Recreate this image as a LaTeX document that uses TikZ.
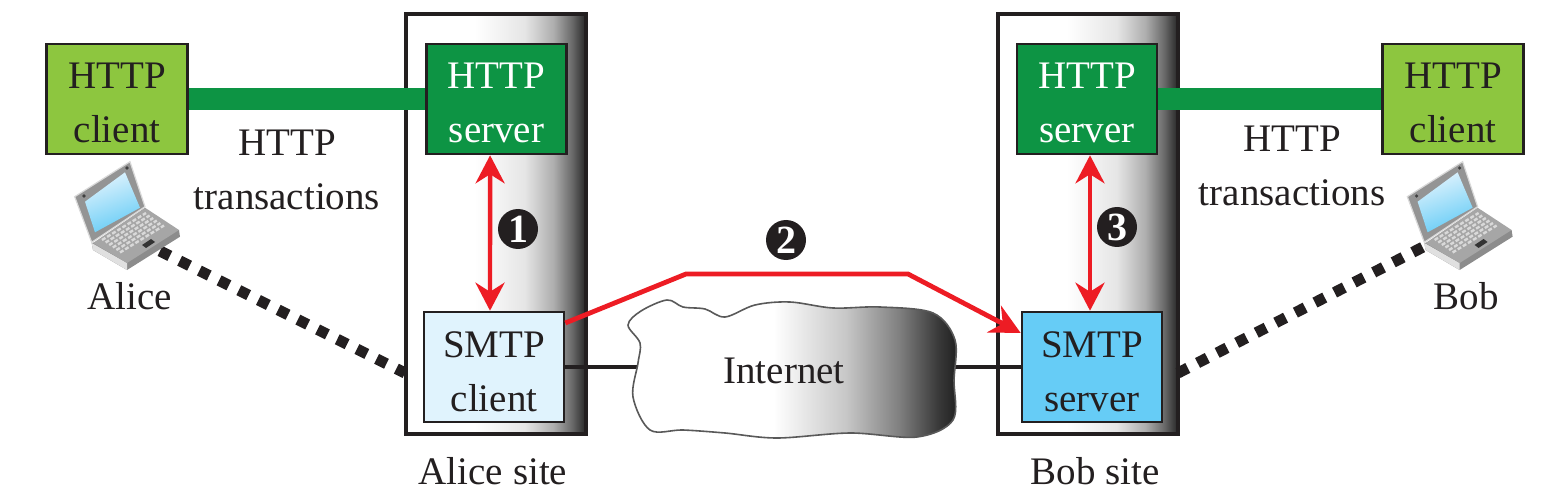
\documentclass[tikz,border=0pt]{standalone}
\usepackage{fontspec}
\setmainfont{Liberation Serif}
\usetikzlibrary{arrows.meta}
\definecolor{ink}{HTML}{231F20}
\definecolor{clientgreen}{HTML}{8DC63F}
\definecolor{servergreen}{HTML}{0D9444}
\definecolor{paleblue}{HTML}{E0F3FD}
\definecolor{skyblue}{HTML}{66CCF6}
\definecolor{redline}{HTML}{ED1C24}
\pgfdeclarehorizontalshading{sitefade}{100bp}{color(0bp)=(white); color(44bp)=(white); color(58bp)=(black!10); color(66bp)=(black!32); color(71bp)=(black!58); color(75bp)=(black!85); color(100bp)=(black!85)}
\pgfdeclarehorizontalshading{cloudfade}{100bp}{color(0bp)=(white); color(47bp)=(white); color(58bp)=(black!22); color(66bp)=(black!50); color(72bp)=(black!78); color(75bp)=(black!88); color(100bp)=(black!88)}
\tikzset{
	every node/.style={text=ink,font=\fontsize{19.5}{27}\selectfont,align=center,inner sep=0pt},
	sitebox/.style={draw=ink,line width=2.2pt,shading=sitefade,minimum width=90pt,minimum height=210pt},
	boxtext/.style={text height=44pt,text depth=0pt},
	clientbox/.style={boxtext,draw=ink,line width=1.3pt,fill=clientgreen,minimum width=70.5pt,minimum height=55pt},
	serverbox/.style={boxtext,draw=ink,line width=1.3pt,fill=servergreen,minimum width=70pt,minimum height=55pt,text=white},
	smtpbox/.style={boxtext,draw=ink,line width=1.3pt,minimum width=70pt,minimum height=55pt},
	greenlink/.style={servergreen,line width=11pt},
	wire/.style={ink,line width=2.2pt},
	redarrow/.style={redline,line width=2.2pt,{Stealth[length=14pt,width=14.5pt]}-{Stealth[length=14pt,width=14.5pt]}},
	sendarrow/.style={redline,line width=2.4pt,-{Stealth[length=15pt,width=15pt]}},
	dotted link/.style={ink,line width=5.5pt,dash pattern=on 5.5pt off 5.5pt},
	stepmark/.style={circle,fill=ink,text=white,minimum size=20pt,font=\fontsize{20}{20}\selectfont\bfseries},
	laptop/.pic={
		\fill[black!45] (21.7,88) -- (23,95) -- (57,115) -- (110,81.7) -- (109,75) -- cycle;
		\fill[black!12] (23,95) -- (57,115) -- (57,108) -- (21.7,88) -- cycle;
		\fill[black!35] (23,88) -- (75,52.7) -- (109,75) -- (57,108) -- cycle;
		\fill[black!42,draw=black!15,line width=.6pt] (4.7,41.7) -- (60,6.7) -- (75,51.7) -- (21.7,87.3) -- cycle;
		\shade[left color=paleblue,right color=skyblue,shading angle=20] (15,46.7) -- (55,17.3) -- (70,52.7) -- (25,77.3) -- cycle;
		\fill[black!75] (14,41) circle (1.8) (57,13) circle (1.8);
		\foreach \row in {0,1,2,3,4,5}
			\draw[white!85!black,line width=1.2pt,dash pattern=on 2pt off 1pt]
				(32+3.6*\row,85+2.5*\row) -- (76+3.6*\row,58+2.5*\row);
		\fill[black!80] (72,90) -- (81,84) -- (85,87) -- (76,93) -- cycle;
	}
}
\begin{document}
\begin{tikzpicture}[x=0.5pt,y=-0.5pt]
	\useasboundingbox (0,0) rectangle (1546,502);
	\node[sitebox] (alicesite) at (496,224) {};
	\node[sitebox] (bobsite) at (1088,224) {};
	\node[clientbox] (aliceclient) at (117,99) {HTTP\\client};
	\node[serverbox] (aliceserver) at (496.5,99) {HTTP\\server};
	\node[smtpbox,fill=paleblue] (smtpclient) at (494,367) {SMTP\\client};
	\node[serverbox] (bobserver) at (1087,99) {HTTP\\server};
	\node[smtpbox,fill=skyblue] (smtpserver) at (1092,367) {SMTP\\server};
	\node[clientbox] (bobclient) at (1453,99) {HTTP\\client};
	\coordinate (cloudwest) at (640,367);
	\coordinate (cloudeast) at (953,367);
	\coordinate (aliceport) at (405,373);
	\coordinate (bobport) at (1178,373);
	\coordinate (alicepc) at (160,251);
	\coordinate (bobpc) at (1425,246);
	\coordinate (bendleft) at (686,274);
	\coordinate (bendright) at (908,274);
	\draw[greenlink] (aliceclient.east) -- (aliceserver.west);
	\draw[greenlink] (bobserver.east) -- (bobclient.west);
	\draw[wire] (smtpclient.east) -- (cloudwest);
	\draw[wire] (cloudeast) -- (smtpserver.west);
	\draw[dotted link] (alicepc) -- (aliceport);
	\draw[dotted link] (bobport) -- (bobpc);
	\draw[draw=black!65,line width=.8pt,shading=cloudfade] plot[smooth cycle,tension=.55] coordinates {
		(628,325) (641,311) (667,300) (683,307) (705,309) (725,317) (755,305) (790,302) (833,308) (880,307) (933,313)
		(955,340) (954,380) (953,420) (917,437) (850,433) (777,438) (725,433) (683,430) (650,430) (633,397) (638,363) (640,343)
	};
	\node (internet) at (784,371) {Internet};
	\draw[redarrow] ([xshift=-3.2pt]aliceserver.south) -- ([xshift=-2pt]smtpclient.north);
	\draw[redarrow] ([xshift=1.5pt]bobserver.south) -- ([xshift=-1pt]smtpserver.north);
	\draw[sendarrow] ([yshift=22pt]smtpclient.east) -- (bendleft) -- (bendright) -- ([yshift=17pt]smtpserver.west);
	\node[stepmark] (stepone) at (518,229) {1};
	\node[stepmark] (steptwo) at (786,240) {2};
	\node[stepmark] (stepthree) at (1117,227) {3};
	\node (alicetrans) at (287,170) {HTTP\\transactions};
	\node (bobtrans) at (1292,166) {HTTP\\transactions};
	\pic at (70,155) {laptop};
	\pic at (1402.6,155) {laptop};
	\node (alice) at (130,296) {Alice};
	\node (bob) at (1466,296) {Bob};
	\node (alicelabel) at (493,471) {Alice site};
	\node (boblabel) at (1095,471) {Bob site};
\end{tikzpicture}
\end{document}
